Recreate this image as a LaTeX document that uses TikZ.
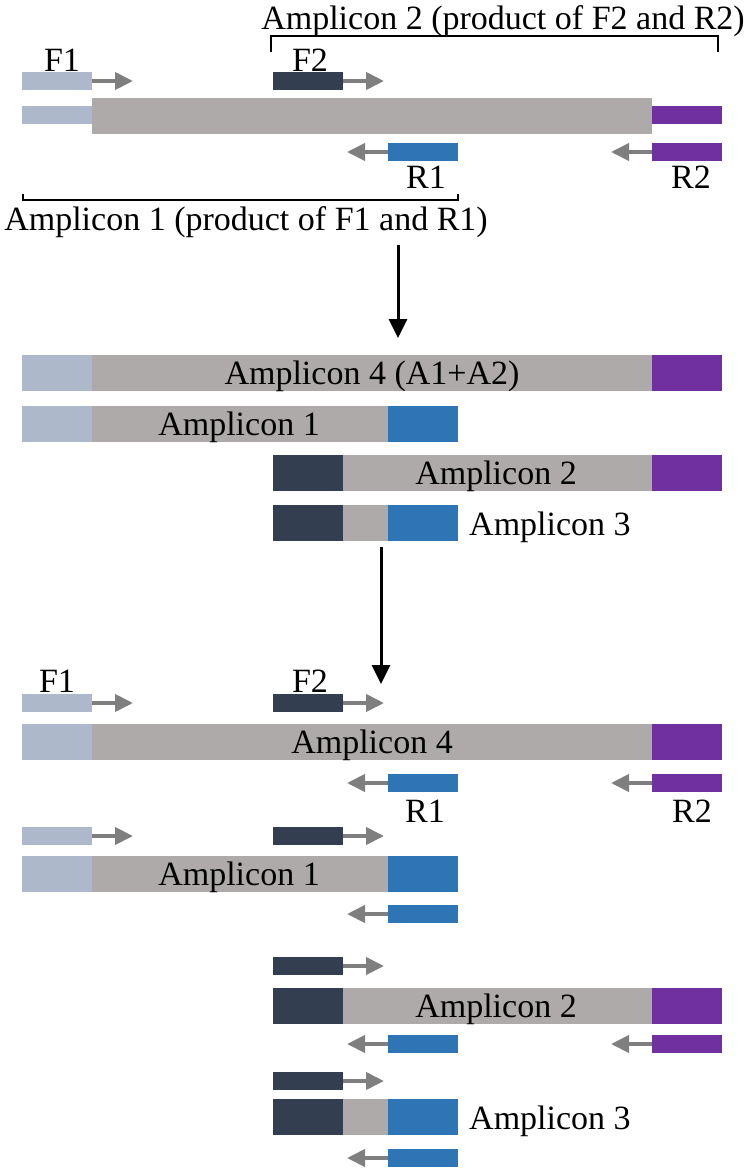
\documentclass[tikz,border=0pt]{standalone}
\usepackage{fontspec}
\setmainfont{Liberation Serif}
\usetikzlibrary{arrows.meta}
\definecolor{lb}{HTML}{ADB9CA}
\definecolor{gr}{HTML}{AEAAAA}
\definecolor{nv}{HTML}{333F50}
\definecolor{bl}{HTML}{2E75B6}
\definecolor{pu}{HTML}{7030A0}
\definecolor{ar}{HTML}{7F7F7F}
\tikzset{
  seg/.style={rectangle, inner sep=0pt, outer sep=0pt, anchor=north west},
  pr/.style={seg, minimum width=70pt, minimum height=18pt},
  bar/.style={seg, minimum height=36pt},
  fwd/.style={draw=ar, line width=4pt, -{Triangle[length=18pt,width=17pt]}},
  lbl/.style={font=\fontsize{34}{40}\selectfont, inner sep=0pt, anchor=base},
  lblw/.style={lbl, anchor=base west},
  big/.style={line width=3pt, -{Triangle[length=19pt,width=18pt]}},
  brk/.style={line width=1.4pt}
}
\begin{document}
\begin{tikzpicture}[x=1pt,y=-1pt]
\useasboundingbox (0,0) rectangle (750,1171);
% ---------- top section ----------
\node[pr, fill=lb] (f1a) at (22,72) {};
\node[pr, fill=nv] (f2a) at (273,72) {};
\node[seg, fill=lb, minimum width=70pt, minimum height=18pt] (tl) at (22,106) {};
\node[bar, fill=gr, minimum width=560pt] (tg) at (92,98) {};
\node[seg, fill=pu, minimum width=70pt, minimum height=18pt] (tp) at (652,106) {};
\node[pr, fill=bl] (r1a) at (388,143) {};
\node[pr, fill=pu] (r2a) at (652,143) {};
\draw[fwd] (f1a.east) -- ++(41,0);
\draw[fwd] (f2a.east) -- ++(41,0);
\draw[fwd] (r1a.west) -- ++(-41,0);
\draw[fwd] (r2a.west) -- ++(-41,0);
\node[lbl] (lf1a) at (62,71) {F1};
\node[lbl] (lf2a) at (310,71) {F2};
\node[lbl] (lr1a) at (426,188) {R1};
\node[lbl] (lr2a) at (691,188) {R2};
\coordinate (b2l) at (271,52);
\coordinate (b2r) at (718,52);
\draw[brk] (b2l) -- (271,36) -- (718,36) -- (b2r);
\node[lbl] (amp2t) at (503,29) {Amplicon 2 (product of F2 and R2)};
\coordinate (b1l) at (23,194);
\coordinate (b1r) at (458,194);
\draw[brk] (b1l) -- (23,200) -- (458,200) -- (b1r);
\node[lbl] (amp1t) at (246,230) {Amplicon 1 (product of F1 and R1)};
% ---------- arrow 1 ----------
\coordinate (a1s) at (398,245);
\coordinate (a1e) at (398,338);
\draw[big] (a1s) -- (a1e);
% ---------- middle section ----------
\node[bar, fill=lb, minimum width=70pt] (m4a) at (22,355) {};
\node[bar, fill=gr, minimum width=560pt] (m4b) at (92,355) {};
\node[bar, fill=pu, minimum width=70pt] (m4c) at (652,355) {};
\node[lbl] (m4t) at (372,384) {Amplicon 4 (A1+A2)};
\node[bar, fill=lb, minimum width=70pt] (m1a) at (22,406) {};
\node[bar, fill=gr, minimum width=296pt] (m1b) at (92,406) {};
\node[bar, fill=bl, minimum width=70pt] (m1c) at (388,406) {};
\node[lbl] (m1t) at (239,435) {Amplicon 1};
\node[bar, fill=nv, minimum width=70pt] (m2a) at (273,455) {};
\node[bar, fill=gr, minimum width=309pt] (m2b) at (343,455) {};
\node[bar, fill=pu, minimum width=70pt] (m2c) at (652,455) {};
\node[lbl] (m2t) at (496,484) {Amplicon 2};
\node[bar, fill=nv, minimum width=70pt] (m3a) at (273,505) {};
\node[bar, fill=gr, minimum width=45pt] (m3b) at (343,505) {};
\node[bar, fill=bl, minimum width=70pt] (m3c) at (388,505) {};
\node[lblw] (m3t) at (469,535) {Amplicon 3};
% ---------- arrow 2 ----------
\coordinate (a2s) at (381,547);
\coordinate (a2e) at (381,684);
\draw[big] (a2s) -- (a2e);
% ---------- bottom: amplicon 4 ----------
\node[pr, fill=lb] (bf1) at (22,694) {};
\node[pr, fill=nv] (bf2) at (273,694) {};
\draw[fwd] (bf1.east) -- ++(41,0);
\draw[fwd] (bf2.east) -- ++(41,0);
\node[lbl] (lbf1) at (57,692) {F1};
\node[lbl] (lbf2) at (310,692) {F2};
\node[bar, fill=lb, minimum width=70pt] (b4a) at (22,724) {};
\node[bar, fill=gr, minimum width=560pt] (b4b) at (92,724) {};
\node[bar, fill=pu, minimum width=70pt] (b4c) at (652,724) {};
\node[lbl] (b4t) at (372,753) {Amplicon 4};
\node[pr, fill=bl] (br1) at (388,774) {};
\node[pr, fill=pu] (br2) at (652,774) {};
\draw[fwd] (br1.west) -- ++(-41,0);
\draw[fwd] (br2.west) -- ++(-41,0);
\node[lbl] (lbr1) at (425,822) {R1};
\node[lbl] (lbr2) at (692,822) {R2};
% ---------- bottom: amplicon 1 ----------
\node[pr, fill=lb] (cf1) at (22,827) {};
\node[pr, fill=nv] (cf2) at (273,827) {};
\draw[fwd] (cf1.east) -- ++(41,0);
\draw[fwd] (cf2.east) -- ++(41,0);
\node[bar, fill=lb, minimum width=70pt] (c1a) at (22,856) {};
\node[bar, fill=gr, minimum width=296pt] (c1b) at (92,856) {};
\node[bar, fill=bl, minimum width=70pt] (c1c) at (388,856) {};
\node[lbl] (c1t) at (239,885) {Amplicon 1};
\node[pr, fill=bl] (cr1) at (388,905) {};
\draw[fwd] (cr1.west) -- ++(-41,0);
% ---------- bottom: amplicon 2 ----------
\node[pr, fill=nv] (df2) at (273,957) {};
\draw[fwd] (df2.east) -- ++(41,0);
\node[bar, fill=nv, minimum width=70pt] (d2a) at (273,988) {};
\node[bar, fill=gr, minimum width=309pt] (d2b) at (343,988) {};
\node[bar, fill=pu, minimum width=70pt] (d2c) at (652,988) {};
\node[lbl] (d2t) at (496,1017) {Amplicon 2};
\node[pr, fill=bl] (dr1) at (388,1035) {};
\node[pr, fill=pu] (dr2) at (652,1035) {};
\draw[fwd] (dr1.west) -- ++(-41,0);
\draw[fwd] (dr2.west) -- ++(-41,0);
% ---------- bottom: amplicon 3 ----------
\node[pr, fill=nv] (ef2) at (273,1072) {};
\draw[fwd] (ef2.east) -- ++(41,0);
\node[bar, fill=nv, minimum width=70pt] (e3a) at (273,1099) {};
\node[bar, fill=gr, minimum width=45pt] (e3b) at (343,1099) {};
\node[bar, fill=bl, minimum width=70pt] (e3c) at (388,1099) {};
\node[lblw] (e3t) at (469,1129) {Amplicon 3};
\node[pr, fill=bl] (er1) at (388,1149) {};
\draw[fwd] (er1.west) -- ++(-41,0);
\end{tikzpicture}
\end{document}
